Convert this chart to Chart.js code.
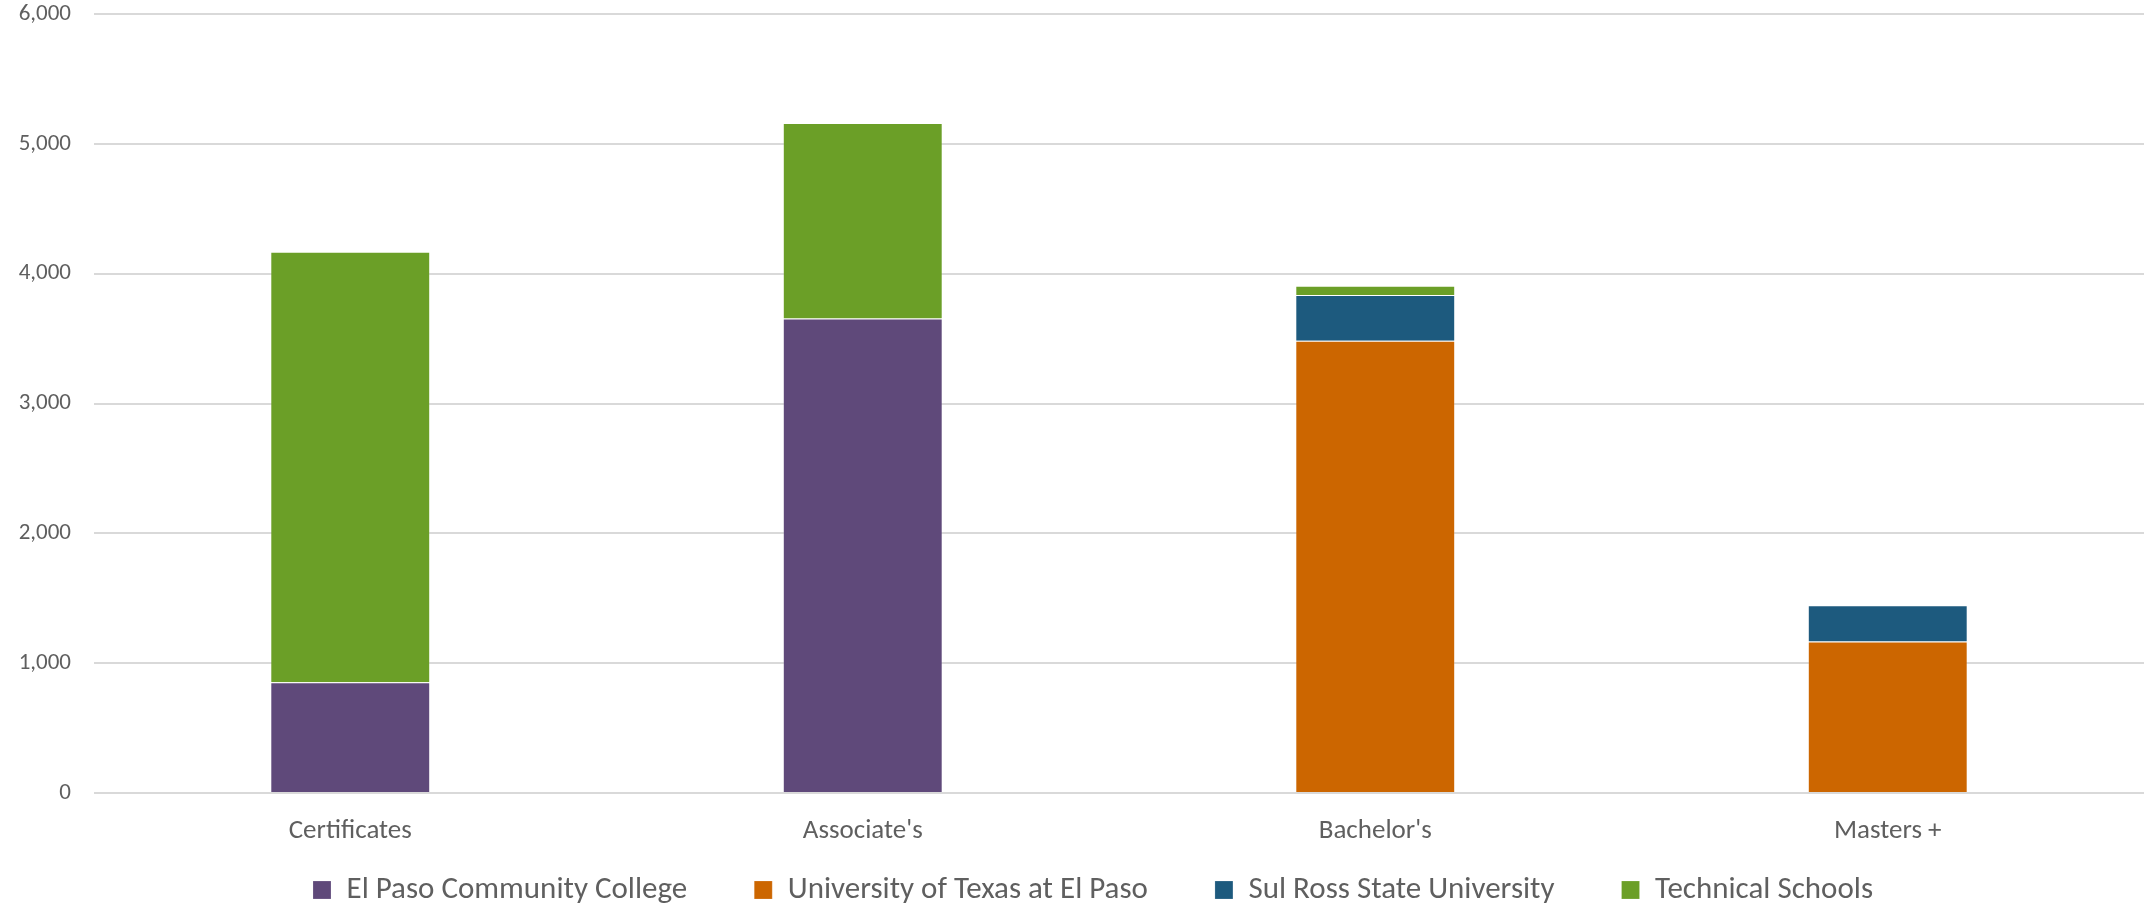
<!DOCTYPE html>
<html>
<head>
<meta charset="utf-8">
<script src="https://cdn.jsdelivr.net/npm/chart.js@4/dist/chart.umd.min.js"></script>
<style>
  html, body { margin: 0; padding: 0; background: #fff; }
  #wrap { width: 2144px; height: 908px; }
</style>
</head>
<body>
<div id="wrap"><canvas id="chart"></canvas></div>
<script>
// ── DATOS ──────────────────────────────────────
const CATEGORIAS = ["Certificates", "Associate's", "Bachelor's", "Masters +"];
const EPCC       = [853, 3655, 0, 0];
const UTEP       = [0, 0, 3483, 1167];
const SUL_ROSS   = [0, 0, 352, 280];
const TECNICAS   = [3316, 1506, 72, 0];
const Y_TICKS    = [0, 1000, 2000, 3000, 4000, 5000, 6000];

const FUENTE = "Carlito, Lato, 'Open Sans', sans-serif";
const GRIS   = '#5f5f5f';
const PAD_LEYENDA = 67;

function serie(label, data, color) {
  return {
    label, data,
    backgroundColor: color,
    borderColor: 'rgba(255,255,255,0.18)',
    borderWidth: 1,
    barPercentage: 0.312,
    categoryPercentage: 1
  };
}

// Leyenda: alto chico en el layout, luego se reubica su caja
const ajusteLeyenda = {
  id: 'ajusteLeyenda',
  beforeLayout(chart) {
    const lg = chart.legend;
    if (lg && !lg._parcheado) {
      const fitOriginal = lg.fit;
      lg.fit = function () { fitOriginal.call(this); this.height = 25; };
      lg._parcheado = true;
    }
  },
  afterLayout(chart) {
    const lg = chart.legend;
    if (lg) {
      lg.top = 890 - 15.5 - PAD_LEYENDA;
      lg.bottom = chart.height;
      lg.height = lg.bottom - lg.top;
      lg.left += 21; lg.right += 21;
    }
  }
};

new Chart(document.getElementById('chart'), {
  type: 'bar',
  data: {
    labels: CATEGORIAS,
    datasets: [
      serie('El Paso Community College', EPCC, '#5F497A'),
      serie('University of Texas at El Paso', UTEP, '#CC6600'),
      serie('Sul Ross State University', SUL_ROSS, '#1D5A7E'),
      serie('Technical Schools', TECNICAS, '#6B9F27')
    ]
  },
  plugins: [ajusteLeyenda],
  options: {
    responsive: true,
    maintainAspectRatio: false,
    animation: false,
    layout: { padding: { top: 14, right: 0, left: 0, bottom: 0 } },
    plugins: {
      tooltip: { enabled: false },
      legend: {
        position: 'bottom',
        labels: {
          font: { family: FUENTE, size: 31 },
          color: GRIS,
          boxWidth: 18,
          boxHeight: 18,
          padding: PAD_LEYENDA
        }
      }
    },
    scales: {
      x: {
        stacked: true,
        grid: { display: false },
        border: { display: false },
        ticks: { font: { family: FUENTE, size: 27 }, color: GRIS, padding: 14 },
        afterFit: s => { s.height = 90; }
      },
      y: {
        stacked: true,
        min: 0,
        max: 6000,
        afterBuildTicks: s => { s.ticks = Y_TICKS.map(v => ({ value: v })); },
        grid: { color: '#D9D9D9', lineWidth: 2, drawTicks: false },
        border: { display: false },
        ticks: {
          font: { family: FUENTE, size: 23 },
          color: GRIS,
          padding: 23,
          callback: v => v.toLocaleString('en-US')
        },
        afterFit: s => { s.width = 94; s.paddingTop = 0; s.paddingBottom = 0; }
      }
    }
  }
});
</script>
</body>
</html>
